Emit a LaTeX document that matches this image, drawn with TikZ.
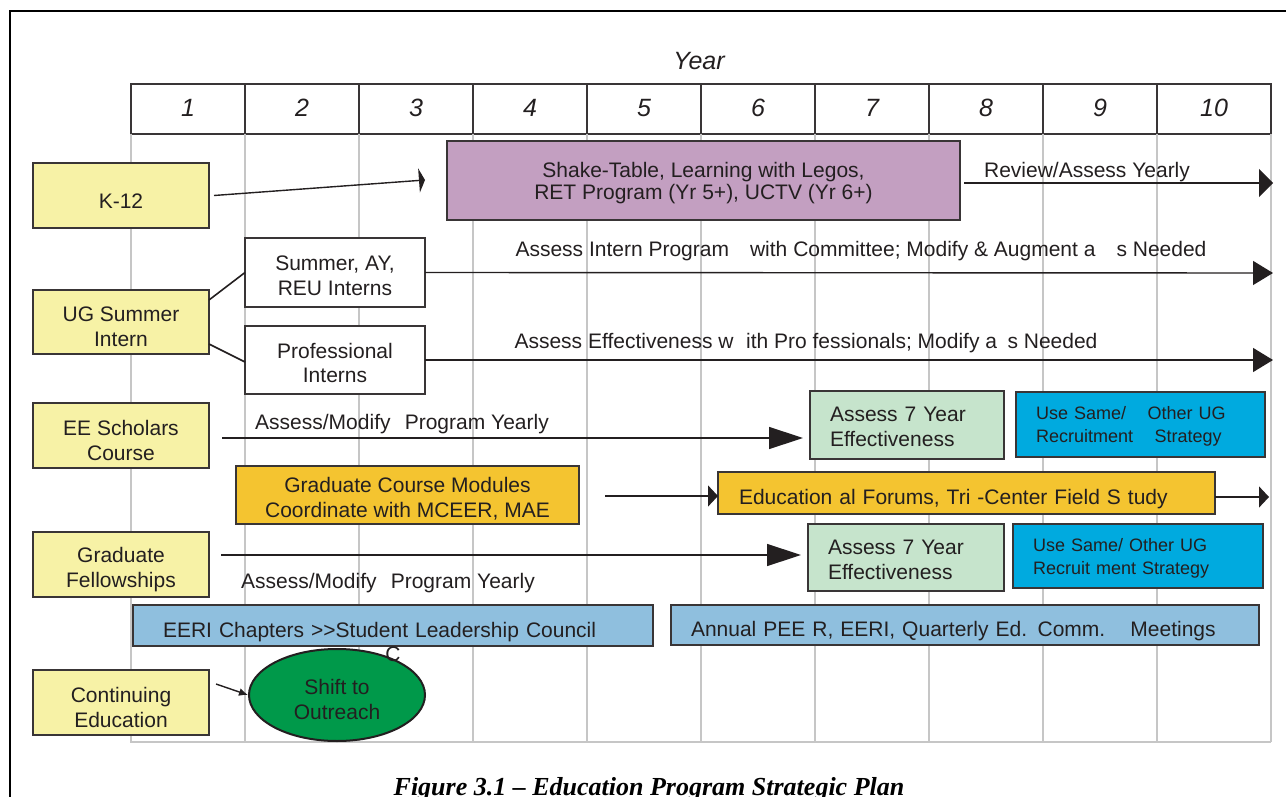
\documentclass[tikz,border=0pt]{standalone}
\usepackage{fontspec}
\setmainfont{Liberation Sans}
\newfontfamily\capfont{Liberation Serif}
\usetikzlibrary{arrows.meta,shapes.geometric}
\definecolor{k12yellow}{HTML}{F7F2A6}
\definecolor{shakepurple}{HTML}{C39FC1}
\definecolor{assessgreen}{HTML}{C6E4CC}
\definecolor{usecyan}{HTML}{00AADF}
\definecolor{gcmorange}{HTML}{F4C430}
\definecolor{eeriblue}{HTML}{8FBFDE}
\definecolor{shiftgreen}{HTML}{00994A}
\definecolor{inkgray}{HTML}{231F20}
\newcommand{\lift}[1]{\rule{0pt}{#1}}
\tikzset{
    drop/.style={execute at begin node={\rule{0pt}{#1}}},
    raw box/.style={rectangle, draw=inkgray!90, line width=1pt, inner sep=0pt, outer sep=0pt, text=inkgray, font=\fontsize{10.5}{12.5}\selectfont},
    yearcell/.style={raw box, fill=white, minimum width=57pt, minimum height=25pt, font=\fontsize{12.5}{14}\selectfont\itshape},
    side box/.style={raw box, fill=k12yellow, minimum width=88pt, align=center},
    plain box/.style={raw box, fill=white, minimum width=90pt, align=center},
    assess box/.style={raw box, fill=assessgreen, text width=77pt, inner xsep=10pt, align=left},
    use box/.style={raw box, fill=usecyan, text width=104.5pt, inner xsep=10pt, align=left, font=\fontsize{9}{11.5}\selectfont},
    bar box/.style={raw box, align=left, drop=13.7pt},
    gridline/.style={draw=gray!45, line width=0.75pt},
    label text/.style={text=inkgray, font=\fontsize{10.5}{12.5}\selectfont, inner sep=0pt},
    bigarrow/.style={draw=inkgray, line width=0.7pt, -{Triangle[length=10pt,width=12pt]}},
    longarrow/.style={draw=inkgray, line width=0.7pt, -{Triangle[length=17pt,width=11pt]}},
    thinarrow/.style={draw=inkgray, line width=0.7pt, -{Triangle[length=5pt,width=10.5pt]}},
    smallarrow/.style={draw=inkgray, line width=0.7pt, -{Latex[length=4.5pt,width=4pt]}}
}
\begin{document}
\begin{tikzpicture}[x=0.5pt,y=-0.5pt]
    \useasboundingbox (0,0) rectangle (1286,797);
    % frame
    \draw[line width=1.3pt] (10,797) -- (10,11) -- (1286,11);
    % year header
    \node[label text, font=\fontsize{12.5}{14}\selectfont\itshape] (year) at (699,61) {Year};
    \foreach \i in {1,...,10}
        \node[yearcell] (yr\i) at ({74+114*\i},109) {\raisebox{1.5pt}{\i}};
    \foreach \i in {1,...,10}
        \draw[gridline] (yr\i.south east) -- ++(0,608);
    \draw[gridline] (yr1.south west) -- ++(0,608) -- ++(1140,0);
    % rows on the left
    \node[side box, minimum height=32.5pt, drop=12.6pt] (k12) at (121,195.5) {K-12};
    \node[side box, minimum height=32pt] (ugintern) at (121,322) {\lift{12.6pt}UG Summer\\Intern};
    \node[side box, minimum height=32.5pt] (eescholars) at (121,435.5) {\lift{12.6pt}EE Scholars\\Course};
    \node[side box, minimum height=32.5pt] (gradfellow) at (121,564.5) {\lift{12.6pt}Graduate\\Fellowships};
    \node[side box, minimum height=32.5pt] (contedu) at (121,702.5) {\lift{12.6pt}Continuing\\Education};
    % program boxes
    \node[raw box, fill=shakepurple, minimum width=256.5pt, minimum height=39.5pt, align=center] (shake) at (703.5,180.5)
        {\lift{9.7pt}Shake-Table, Learning with Legos,\\[-1.5pt]RET Program (Yr 5+), UCTV (Yr 6+)};
    \node[plain box, minimum height=34.5pt] (summer) at (335,272.5) {\lift{10.6pt}Summer, AY,\\REU Interns};
    \node[plain box, minimum height=34pt] (prof) at (335,360) {\lift{10.6pt}Professional\\Interns};
    \node[assess box, minimum height=34pt] (assessA) at (907,425) {\lift{9.6pt}Assess 7 Year\\Effectiveness};
    \node[use box, minimum height=32.5pt] (useA) at (1140.5,424.5) {\lift{8.6pt}Use Same/\hspace{1.2em}Other UG\\Recruitment\hspace{1.2em}Strategy};
    \node[raw box, fill=gcmorange, minimum width=171.5pt, minimum height=29pt, align=center] (gcm) at (407.5,495)
        {\lift{11.1pt}Graduate Course Modules\\Coordinate with MCEER, MAE};
    \node[bar box, fill=gcmorange, text width=227.5pt, inner xsep=10.5pt, minimum height=21pt] (forum) at (966.5,493)
        {Education al Forums, Tri -Center Field S tudy};
    \node[assess box, text width=78pt, minimum height=33.5pt] (assessB) at (906,557.5) {\lift{9.6pt}Assess 7 Year\\Effectiveness};
    \node[use box, text width=105pt, minimum height=32pt] (useB) at (1138,556) {\lift{8.6pt}Use Same/ Other UG\\Recruit ment Strategy};
    \node[bar box, fill=eeriblue, text width=230pt, inner xsep=15pt, minimum height=20.5pt] (eeri) at (393,625.5)
        {EERI Chapters >{}>Student Leadership Council};
    \node[bar box, fill=eeriblue, text width=274pt, inner xsep=10pt, minimum height=20pt] (annual) at (965,625)
        {Annual PEE R, EERI, Quarterly Ed. Comm.\hspace{1.2em}Meetings};
    \node[ellipse, draw=inkgray, line width=1pt, fill=shiftgreen, text=inkgray, minimum width=88pt, minimum height=46pt,
        inner sep=0pt, align=center, font=\fontsize{10.5}{12.5}\selectfont] (shift) at (337,695) {\lift{11.7pt}Shift to\\Outreach};
    \node[label text] (cmark) at (393,654) {C};
    % connector ends
    \coordinate (k12tip) at (425,180);
    \coordinate (reviewend) at (1273,183);
    \coordinate (summerend) at (1273,273);
    \coordinate (profend) at (1273,360);
    \coordinate (eestart) at (222,438);
    \coordinate (gradstart) at (221,555);
    \coordinate (gcmstart) at (605,496);
    \coordinate (forumend) at (1269,497);
    \coordinate (contstart) at (216,684);
    % connectors
    \draw[thinarrow, -{Triangle[length=3pt,width=12pt]}] ([xshift=2.5pt]k12.east) -- (k12tip);
    \draw[bigarrow, -{Triangle[length=7pt,width=14pt]}] ([xshift=2pt]shake.east |- reviewend) -- (reviewend);
    \draw[bigarrow] (summer.east) -- (summerend);
    \draw[bigarrow] (prof.east) -- (profend);
    \draw[longarrow, shorten >=3.5pt] (eestart) -- (eestart -| assessA.west);
    \draw[longarrow, shorten >=3.5pt] (gradstart) -- (gradstart -| assessB.west);
    \draw[thinarrow] (gcmstart) -- (gcmstart -| forum.west);
    \draw[thinarrow] (forum.east |- forumend) -- (forumend);
    \draw[smallarrow] (contstart) -- (shift.west);
    \draw[draw=inkgray, line width=0.8pt] ([yshift=-5pt]ugintern.north east) -- (summer.west);
    \draw[draw=inkgray, line width=0.8pt] ([yshift=5pt]ugintern.south east) -- ([yshift=-1pt]prof.west);
    % texts along the arrows
    \node[label text] (reviewlabel) at (1087,172) {Review/Assess Yearly};
    \node[label text] (summerlabel) at (861,251) {Assess Intern Program\hspace{1em}with Committee; Modify \& Augment a\hspace{1em}s Needed};
    \node[label text] (proflabel) at (806,343) {Assess Effectiveness w\hspace{0.6em}ith Pro fessionals; Modify a\hspace{0.5em}s Needed};
    \node[label text] (eelabel) at (402,424) {Assess/Modify\hspace{0.4em} Program Yearly};
    \node[label text] (gradlabel) at (388,583) {Assess/Modify\hspace{0.4em} Program Yearly};
    % caption
    \node[inner sep=0pt, font=\capfont\bfseries\itshape\fontsize{13}{15}\selectfont] (caption) at (649,789)
        {Figure 3.1 – Education Program Strategic Plan};
\end{tikzpicture}
\end{document}
